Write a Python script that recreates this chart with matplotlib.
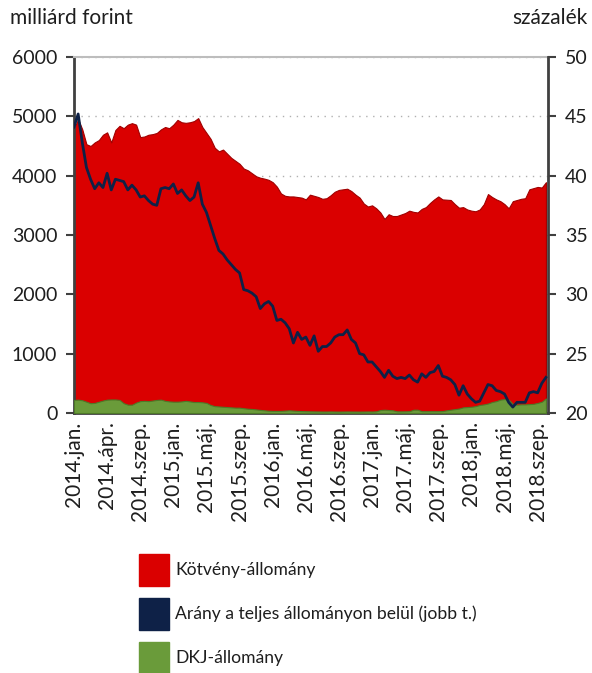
import numpy as np
import matplotlib
matplotlib.use('Agg')
import matplotlib.pyplot as plt
from matplotlib.patches import Rectangle

plt.rcParams['font.family'] = ['Lato', 'DejaVu Sans']

# approx. weekly readings, Jan 2014 - Oct 2018
bond = [4800, 4950, 4780, 4530, 4500, 4560, 4600, 4690, 4730, 4560,
        4770, 4840, 4800, 4860, 4885, 4860, 4650, 4660, 4690, 4700,
        4720, 4780, 4820, 4800, 4860, 4940, 4900, 4890, 4900, 4920,
        4970, 4820, 4720, 4620, 4470, 4410, 4440, 4370, 4300, 4250,
        4200, 4120, 4090, 4040, 3990, 3965, 3950, 3930, 3890, 3815,
        3700, 3660, 3650, 3650, 3640, 3630, 3600, 3680, 3660, 3640,
        3610, 3620, 3670, 3730, 3760, 3770, 3780, 3740, 3680, 3630,
        3530, 3480, 3500, 3450, 3380, 3270, 3350, 3320, 3320, 3345,
        3370, 3410, 3390, 3380, 3440, 3470, 3540, 3600, 3650, 3600,
        3595, 3590, 3520, 3460, 3470, 3430, 3410, 3400, 3430, 3520,
        3690, 3640, 3600, 3570, 3520, 3450, 3570, 3590, 3610, 3620,
        3770, 3790, 3810, 3800, 3890]

share = [44.1, 45.2, 42.8, 40.7, 39.7, 38.9, 39.4, 39.0, 40.2, 38.8,
         39.7, 39.6, 39.5, 38.8, 39.2, 38.8, 38.2, 38.3, 37.9, 37.6,
         37.5, 38.9, 39.0, 38.9, 39.3, 38.5, 38.8, 38.3, 37.9, 38.2,
         39.4, 37.6, 36.9, 35.8, 34.7, 33.7, 33.4, 32.9, 32.5, 32.1,
         31.8, 30.4, 30.3, 30.1, 29.8, 28.8, 29.2, 29.4, 29.0, 27.8,
         27.9, 27.6, 27.1, 25.9, 26.8, 26.2, 26.4, 25.7, 26.5, 25.2,
         25.6, 25.6, 25.9, 26.4, 26.6, 26.6, 27.0, 26.2, 25.9, 25.0,
         24.9, 24.3, 24.3, 23.9, 23.5, 23.0, 23.6, 23.1, 22.9, 23.0,
         22.9, 23.2, 22.8, 22.6, 23.3, 23.0, 23.4, 23.5, 24.0, 23.1,
         23.0, 22.8, 22.4, 21.5, 22.3, 21.6, 21.2, 20.9, 21.0, 21.7,
         22.4, 22.3, 21.9, 21.8, 21.6, 20.9, 20.5, 20.9, 20.9, 20.9,
         21.7, 21.8, 21.7, 22.5, 23.0]

dkj = [220, 225, 215, 190, 165, 170, 190, 210, 225, 228,
       228, 220, 165, 140, 140, 175, 200, 205, 200, 210,
       220, 225, 205, 195, 190, 190, 195, 205, 195, 185,
       185, 180, 170, 135, 115, 110, 105, 100, 95, 90,
       90, 80, 72, 68, 60, 52, 45, 38, 35, 35,
       35, 40, 45, 40, 35, 32, 30, 28, 27, 26,
       25, 25, 26, 25, 24, 25, 26, 25, 25, 24,
       25, 26, 25, 28, 50, 55, 50, 45, 28, 27,
       28, 30, 55, 55, 30, 30, 30, 30, 30, 32,
       45, 55, 65, 75, 95, 100, 105, 115, 135, 145,
       160, 185, 200, 225, 235, 225, 150, 140, 145, 145,
       150, 155, 170, 190, 245]

tick_labels = ['2014.jan.', '2014.ápr.', '2014.szep.', '2015.jan.', '2015.máj.',
               '2015.szep.', '2016.jan.', '2016.máj.', '2016.szep.', '2017.jan.',
               '2017.máj.', '2017.szep.', '2018.jan.', '2018.máj.', '2018.szep.']

red = '#DA0000'
navy = '#0E2147'
green = '#6A9B3A'
spine_col = '#404040'
txt = '#1E1E1E'

x = np.arange(len(bond))

fig = plt.figure(figsize=(5.92, 6.73), dpi=100)
ax = fig.add_axes([74 / 592, 1 - 413 / 673, 474 / 592, 356 / 673])

ax.fill_between(x, 0, bond, color=red, edgecolor='#A00000', linewidth=0.8, zorder=2)
ax.fill_between(x, 0, dkj, color=green, edgecolor='#4E7A28', linewidth=0.8, zorder=3)

ax.set_ylim(0, 6000)
ax.set_xlim(0, 114.5)
ax.set_yticks(range(0, 6001, 1000))
ax.set_xticks(np.arange(0, 113, 8))
ax.set_xticklabels(tick_labels, rotation=90, fontsize=15, color=txt)
ax.tick_params(axis='x', length=0, pad=6)
ax.tick_params(axis='y', length=6, width=1.5, color=spine_col, labelsize=14,
               labelcolor=txt, direction='out', pad=6)
ax.set_axisbelow(True)
ax.grid(axis='y', color='#B0B0B0', linestyle=(0, (1, 4)), linewidth=1.0, zorder=0)

for s in ['left', 'bottom']:
    ax.spines[s].set_color(spine_col)
    ax.spines[s].set_linewidth(2)
ax.spines['top'].set_color('#BDBDBD')
ax.spines['top'].set_linewidth(1.5)
ax.spines['right'].set_visible(False)

ax2 = ax.twinx()
ax2.plot(x, share, color=navy, linewidth=2.0, zorder=4)
ax2.set_ylim(20, 50)
ax2.set_yticks(range(20, 51, 5))
ax2.tick_params(axis='y', length=6, width=1.5, color=spine_col, labelsize=14,
                labelcolor=txt, direction='out', pad=6)
for s in ['left', 'top', 'bottom']:
    ax2.spines[s].set_visible(False)
ax2.spines['right'].set_color(spine_col)
ax2.spines['right'].set_linewidth(2)

fig.text(10 / 592, 1 - 18 / 673, 'milliárd forint', fontsize=15, color=txt,
         va='center', ha='left')
fig.text(588 / 592, 1 - 18 / 673, 'százalék', fontsize=15, color=txt,
         va='center', ha='right')

# legend
leg_items = [('Kötvény-állomány', red), ('Arány a teljes állományon belül (jobb t.)', navy),
             ('DKJ-állomány', green)]
for k, (lab, col) in enumerate(leg_items):
    yc = 570 + k * 44
    fig.add_artist(Rectangle((139 / 592, 1 - (yc + 16) / 673), 30 / 592, 32 / 673,
                             transform=fig.transFigure, color=col))
    fig.text(175 / 592, 1 - yc / 673, lab, fontsize=12.6, color=txt,
             va='center', ha='left')

fig.savefig('out.png', dpi=100)
